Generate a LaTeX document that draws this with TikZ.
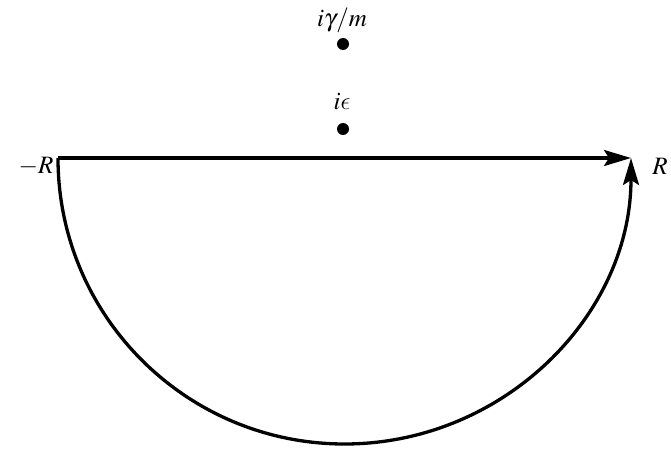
\documentclass[tikz,border=0pt]{standalone}
\usepackage{mathptmx}
\DeclareSymbolFont{lmletters}{OML}{lmm}{m}{it}
\DeclareMathSymbol{\lunateeps}{\mathord}{lmletters}{"0F}
\usetikzlibrary{arrows.meta}
\begin{document}
\begin{tikzpicture}[x=1pt,y=-1pt,
  contour/.style={line width=3.3pt},
  tip/.style={-{Stealth[length=27pt,width=16pt,inset=5pt]}},
  pole/.style={circle,fill=black,inner sep=0pt,minimum size=12pt},
  lbl/.style={font=\fontsize{25}{29}\selectfont,inner sep=0pt}]
\useasboundingbox (0,0) rectangle (671,449);
\coordinate (L) at (58,158);
\coordinate (Rt) at (631,158);
\node[pole] (p1) at (343,44) {};
\node[pole] (p2) at (343,129) {};
\node[lbl] (t1) at (342,20) {$i\gamma/m$};
\node[lbl] (t2) at (342,102) {$i\lunateeps$};
\node[lbl] (tl) at (36,166) {$-R$};
\node[lbl] (tr) at (660,166) {$R$};
\draw[contour,tip] (L) -- (Rt);
\draw[contour,tip] (L) arc[start angle=180,end angle=360,x radius=286.5pt,y radius=286pt];
\end{tikzpicture}
\end{document}
